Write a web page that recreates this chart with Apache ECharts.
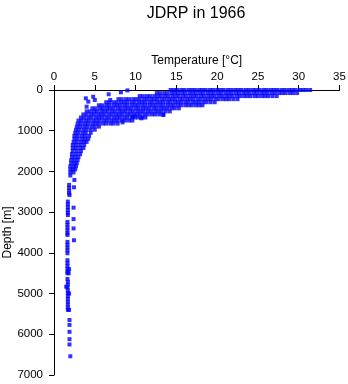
<!DOCTYPE html>
<html>
<head>
<meta charset="utf-8">
<title>JDRP in 1966</title>
<script src="https://cdn.jsdelivr.net/npm/echarts@6/dist/echarts.min.js"></script>
<style>
  html, body { margin: 0; padding: 0; background: #fff; }
  #chart { width: 348px; height: 384px; }
</style>
</head>
<body>
<div id="chart"></div>
<script>
const tempTicks = [0, 5, 10, 15, 20, 25, 30, 35];
const depthTicks = [0, 1000, 2000, 3000, 4000, 5000, 6000, 7000];

// upper water column, one row of readings per depth band
const bandDepths = [0, 75, 150, 225, 300, 375, 450, 525, 600, 675, 750, 825, 900, 975,
  1050, 1125, 1200, 1275, 1350, 1425, 1500, 1575, 1650, 1725, 1800, 1875, 1950, 2025, 2100];
const bandTemps = [
  [14.3, 14.7, 15.1, 15.6, 16.0, 16.5, 16.9, 17.3, 17.8, 18.2, 18.6, 19.1, 19.5, 20.0, 20.4, 20.8, 21.3, 21.7, 22.2, 22.6,
   23.0, 23.5, 23.9, 24.4, 24.8, 25.2, 25.7, 26.1, 26.6, 27.0, 27.4, 27.9, 28.3, 28.8, 29.2, 29.6, 30.1, 30.5, 30.9, 31.4],
  [12.6, 13.0, 13.5, 13.9, 14.4, 14.8, 15.2, 15.7, 16.1, 16.6, 17.0, 17.4, 17.9, 18.3, 18.8, 19.2, 19.6, 20.1, 20.5, 21.0,
   21.4, 21.8, 22.3, 22.7, 23.2, 23.6, 24.0, 24.5, 24.9, 25.4, 25.8, 26.2, 26.7, 27.1, 27.6, 28.0, 28.4, 28.9, 29.3, 29.8],
  [10.5, 10.9, 11.4, 11.8, 12.3, 12.7, 13.1, 13.6, 14.0, 14.5, 14.9, 15.3, 15.8, 16.2, 16.7, 17.1, 17.5, 18.0, 18.4, 18.9,
   19.3, 19.7, 20.2, 20.6, 21.1, 21.5, 21.9, 22.4, 22.8, 23.3, 23.7, 24.1, 24.6, 25.0, 25.5, 25.9, 26.3, 26.8, 27.3],
  [7.9, 8.3, 8.8, 9.2, 9.7, 10.1, 10.5, 11.0, 11.4, 11.9, 12.3, 12.7, 13.2, 13.6, 14.1, 14.5, 14.9, 15.4, 15.8, 16.3,
   16.7, 17.1, 17.6, 18.0, 18.5, 18.9, 19.3, 19.8, 20.2, 20.7, 21.1, 21.5, 22.0, 22.5],
  [6.4, 6.8, 7.3, 7.7, 8.2, 8.6, 9.0, 9.5, 9.9, 10.4, 10.8, 11.2, 11.7, 12.1, 12.6, 13.0, 13.4, 13.9, 14.3, 14.8,
   15.2, 15.6, 16.1, 16.5, 17.0, 17.4, 17.8, 18.3, 18.7, 19.2, 19.7],
  [5.5, 5.9, 6.4, 6.8, 7.3, 7.7, 8.1, 8.6, 9.0, 9.5, 9.9, 10.3, 10.8, 11.2, 11.7, 12.1, 12.5, 13.0, 13.4, 13.9,
   14.3, 14.7, 15.2, 15.6, 16.1, 16.5, 16.9, 17.4, 17.8, 18.2],
  [4.7, 5.1, 5.6, 6.0, 6.5, 6.9, 7.3, 7.8, 8.2, 8.7, 9.1, 9.5, 10.0, 10.4, 10.9, 11.3, 11.7, 12.2, 12.6, 13.1,
   13.5, 13.9, 14.4, 14.8, 15.3],
  [4.0, 4.4, 4.9, 5.3, 5.8, 6.2, 6.6, 7.1, 7.5, 8.0, 8.4, 8.8, 9.3, 9.7, 10.2, 10.6, 11.0, 11.5, 11.9, 12.4,
   12.8, 13.2, 13.7, 14.2],
  [3.6, 4.0, 4.5, 4.9, 5.4, 5.8, 6.2, 6.7, 7.1, 7.6, 8.0, 8.4, 8.9, 9.3, 9.8, 10.2, 10.6, 11.1, 11.5, 12.0,
   12.4, 12.9, 13.4],
  [3.3, 3.7, 4.2, 4.6, 5.1, 5.5, 5.9, 6.4, 6.8, 7.3, 7.7, 8.1, 8.6, 9.0, 9.5, 9.9, 10.3, 10.8, 11.2],
  [3.0, 3.4, 3.9, 4.3, 4.8, 5.2, 5.6, 6.1, 6.5, 7.0, 7.4, 7.8, 8.3, 8.7, 9.2, 9.6],
  [2.9, 3.3, 3.8, 4.2, 4.7, 5.1, 5.5, 6.0, 6.4, 6.9, 7.3, 7.8],
  [2.8, 3.2, 3.7, 4.1, 4.6, 5.0, 5.5],
  [2.7, 3.1, 3.6, 4.0, 4.5, 5.0],
  [2.6, 3.0, 3.5, 3.9, 4.5],
  [2.5, 2.9, 3.4, 3.8, 4.3],
  [2.5, 2.9, 3.4, 3.8, 4.2],
  [2.4, 2.8, 3.3, 3.7, 4.0],
  [2.3, 2.7, 3.2, 3.7],
  [2.3, 2.7, 3.2, 3.6],
  [2.3, 2.8, 3.3],
  [2.2, 2.7, 3.2],
  [2.2, 2.6, 3.0],
  [2.1, 2.5, 2.9],
  [2.1, 2.5, 2.8],
  [2.0, 2.4, 2.7],
  [2.0, 2.3, 2.6],
  [2.0, 2.4],
  [2.0]
];

// stray readings outside the main cloud, [temperature, depth]
const strayPoints = [
  [3.9, 205], [4.2, 285], [4.0, 410], [4.8, 165], [5.0, 245], [6.7, 105], [6.9, 245],
  [8.2, 57], [9.0, 10], [8.4, 795], [10.7, 695], [9.7, 655], [13.4, 615]
];

// deep casts below 2000 m, [temperature, depth]
const deepPoints = [
  [2.5, 2210], [1.85, 2330], [1.85, 2400], [1.85, 2470], [1.85, 2540], [1.9, 2580], [2.45, 2390],
  [1.7, 2740], [1.7, 2810], [1.7, 2880], [1.7, 2950], [1.7, 3020], [1.7, 3070], [2.4, 2890], [2.4, 3170],
  [1.65, 3240], [1.65, 3310], [1.65, 3380], [1.65, 3450], [1.65, 3520], [1.65, 3560], [2.4, 3400], [2.45, 3690],
  [1.65, 3730], [1.65, 3800], [1.65, 3870], [1.65, 3940], [1.65, 4010],
  [1.65, 4180], [1.65, 4250], [1.65, 4320], [1.65, 4390], [1.65, 4460], [1.65, 4500], [1.85, 4400], [1.8, 4500],
  [1.65, 4640], [1.7, 4710], [1.7, 4780], [1.65, 4850], [1.7, 4920], [1.7, 4990], [1.7, 5060], [1.7, 5130],
  [1.7, 5200], [1.7, 5270], [1.7, 5340], [1.7, 5400], [1.5, 4830], [1.85, 5000], [1.85, 5400],
  [1.9, 5650], [1.9, 5770], [1.9, 5940], [1.9, 6120], [1.9, 6250], [2.0, 6540]
];

const font = "Liberation Sans";

function buildPoints() {
  const pts = [];
  bandDepths.forEach((d, i) => {
    bandTemps[i].forEach(t => pts.push([t, d]));
  });
  return pts.concat(strayPoints, deepPoints);
}

const chart = echarts.init(document.getElementById("chart"), null, { renderer: "canvas" });

chart.setOption({
  animation: false,
  title: {
    text: "JDRP in 1966",
    left: 191,
    top: 1,
    textAlign: "center",
    textStyle: { fontFamily: font, fontSize: 16, fontWeight: "normal", color: "#000" }
  },
  grid: { left: 54, right: 8.5, top: 90, bottom: 9, containLabel: false, outerBoundsMode: "none" },
  xAxis: {
    type: "value",
    position: "top",
    min: tempTicks[0],
    max: tempTicks[tempTicks.length - 1],
    interval: 5,
    name: "Temperature [°C]",
    nameLocation: "middle",
    nameGap: 23,
    nameMoveOverlap: false,
    nameTextStyle: { fontFamily: font, fontSize: 12, color: "#000" },
    axisLine: { show: true, lineStyle: { color: "#000", width: 1 } },
    axisTick: { show: true, length: 5, lineStyle: { color: "#000" } },
    axisLabel: { fontFamily: font, fontSize: 11.5, color: "#000", margin: 7, formatter: v => String(v) },
    splitLine: { show: false }
  },
  yAxis: {
    type: "value",
    inverse: true,
    min: depthTicks[0],
    max: depthTicks[depthTicks.length - 1],
    interval: 1000,
    name: "Depth [m]",
    nameLocation: "middle",
    nameGap: 40,
    nameRotate: 90,
    nameMoveOverlap: false,
    nameTextStyle: { fontFamily: font, fontSize: 12, color: "#000" },
    axisLine: { show: true, lineStyle: { color: "#000", width: 1 } },
    axisTick: { show: true, length: 5, lineStyle: { color: "#000" } },
    axisLabel: { fontFamily: font, fontSize: 11.5, color: "#000", margin: 11, formatter: v => String(v) },
    splitLine: { show: false }
  },
  series: [{
    type: "scatter",
    data: buildPoints(),
    symbol: "rect",
    symbolSize: [4, 4],
    itemStyle: { color: "#0000ff" },
    silent: true
  }]
});
</script>
</body>
</html>
